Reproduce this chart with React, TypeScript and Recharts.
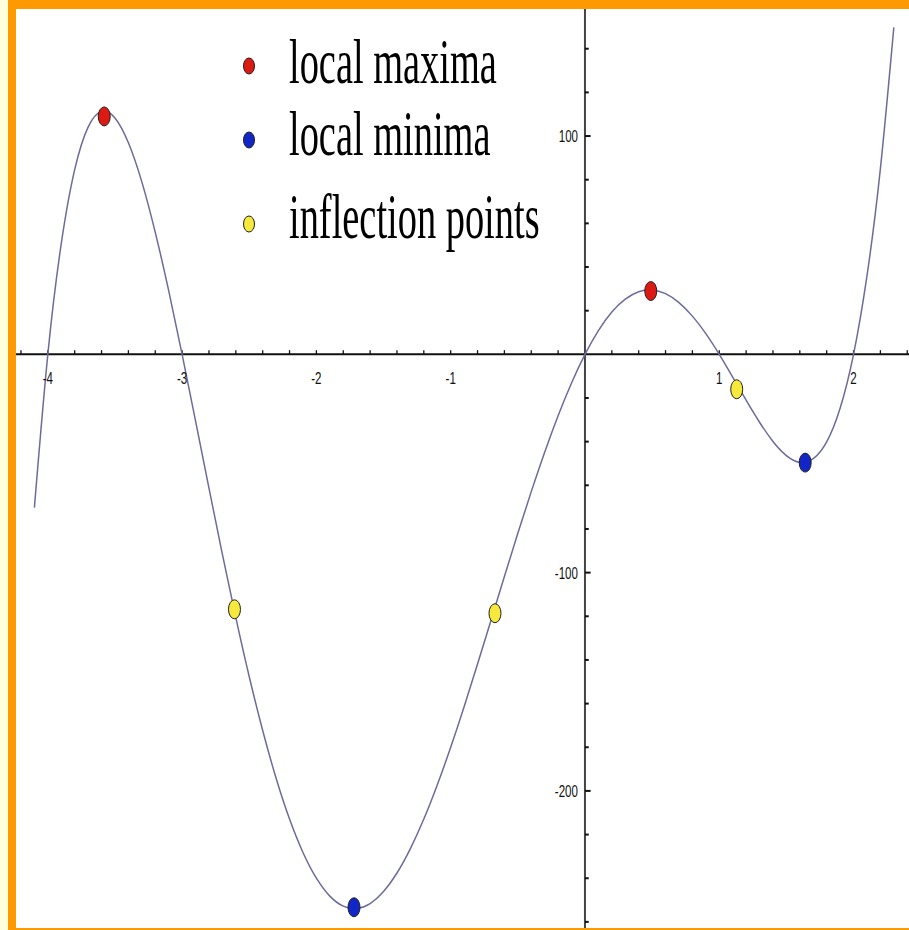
import {
  ComposedChart,
  Line,
  Scatter,
  XAxis,
  YAxis,
  ReferenceLine,
  ReferenceDot,
  Legend,
} from 'recharts';

// sampled curve, x every 0.1 from -4.1 to 2.3
const CURVE_X = [
  -4.1, -4.0, -3.9, -3.8, -3.7, -3.6, -3.5, -3.4, -3.3, -3.2, -3.1, -3.0,
  -2.9, -2.8, -2.7, -2.6, -2.5, -2.4, -2.3, -2.2, -2.1, -2.0,
  -1.9, -1.8, -1.7, -1.6, -1.5, -1.4, -1.3, -1.2, -1.1, -1.0,
  -0.9, -0.8, -0.7, -0.6, -0.5, -0.4, -0.3, -0.2, -0.1, 0,
  0.1, 0.2, 0.3, 0.4, 0.5, 0.6, 0.7, 0.8, 0.9, 1.0,
  1.1, 1.2, 1.3, 1.4, 1.5, 1.6, 1.7, 1.8, 1.9, 2.0,
  2.1, 2.2, 2.3,
];
const CURVE_Y = [
  -70.2, 0, 50.7, 84.6, 104.1, 111.3, 108.3, 96.9, 79.0, 55.9, 29.2, 0,
  -30.5, -61.3, -91.6, -120.6, -147.7, -172.3, -194.2, -212.9, -228.2, -240,
  -248.2, -252.8, -253.9, -251.6, -246.1, -237.6, -226.4, -212.9, -197.3, -180,
  -161.4, -141.9, -121.9, -101.8, -82.0, -62.9, -44.8, -28.1, -13.1, 0,
  10.9, 19.4, 25.3, 28.7, 29.5, 27.8, 23.7, 17.5, 9.5, 0,
  -10.4, -21.0, -31.1, -39.9, -46.4, -49.5, -47.8, -40.1, -24.7, 0,
  35.9, 85.1, 149.8,
];

// highlighted points
const MAXIMA_X = [-3.58, 0.49];
const MAXIMA_Y = [109.0, 29.0];
const MINIMA_X = [-1.72, 1.64];
const MINIMA_Y = [-253.3, -49.6];
const INFLECTION_X = [-2.61, -0.67, 1.13];
const INFLECTION_Y = [-116.8, -118.6, -16.0];

const SERIES_NAMES = ['local maxima', 'local minima', 'inflection points'];
const SERIES_COLORS = ['#dd1a12', '#1226c8', '#f7e83c'];

// axis ticks
const X_MINOR_TICKS = [
  -4.2, -4.0, -3.8, -3.6, -3.4, -3.2, -3.0, -2.8, -2.6, -2.4, -2.2, -2.0,
  -1.8, -1.6, -1.4, -1.2, -1.0, -0.8, -0.6, -0.4, -0.2,
  0.2, 0.4, 0.6, 0.8, 1.0, 1.2, 1.4, 1.6, 1.8, 2.0, 2.2, 2.4,
];
const X_TICK_LABELS = [-4, -3, -2, -1, 1, 2];
const Y_MINOR_TICKS = [
  140, 120, 100, 80, 60, 40, 20, -20, -40, -60, -80, -100, -120, -140,
  -160, -180, -200, -220, -240, -260,
];
const Y_TICK_LABELS = [100, -100, -200];

const X_DOMAIN = [-4.237, 2.413];
const Y_DOMAIN = [-262.8, 158.2];

const curve = CURVE_X.map((x, i) => ({ x, y: CURVE_Y[i] }));
const toPoints = (xs: number[], ys: number[]) => xs.map((x, i) => ({ x, y: ys[i] }));

const SANS = "'Liberation Sans', Arial, sans-serif";
const SERIF = "'Liberation Serif', 'Times New Roman', serif";

const LEGEND_DOT_Y = [66, 140, 224];
const LEGEND_TEXT_Y = [83, 155, 238];

function Marker(props: any) {
  const { cx, cy, fill } = props;
  if (cx == null || cy == null) return null;
  return <ellipse cx={cx} cy={cy} rx={6} ry={9.5} fill={fill} stroke="#222" strokeWidth={1} />;
}

// narrow tick numbers: below the x axis, or left of the y axis
function AxisNumber(props: any) {
  const { viewBox, text, side } = props;
  if (!viewBox) return null;
  const { x, y } = viewBox;
  const tx = side === 'bottom' ? x : x - 7;
  const ty = side === 'bottom' ? y + 30 : y + 6;
  return (
    <text
      transform={`translate(${tx} ${ty}) scale(0.68 1)`}
      textAnchor={side === 'bottom' ? 'middle' : 'end'}
      fontFamily={SANS}
      fontSize={17}
      fill="#111"
    >
      {text}
    </text>
  );
}

function MarkerLegend({ payload }: any) {
  const colorOf = (name: string, i: number) => {
    const hit = (payload || []).find((p: any) => p.value === name);
    return hit?.color || SERIES_COLORS[i];
  };
  return (
    <svg width={600} height={270}>
      {SERIES_NAMES.map((name, i) => (
        <g key={name}>
          <ellipse cx={249} cy={LEGEND_DOT_Y[i]} rx={5.5} ry={8} fill={colorOf(name, i)} stroke="#222" strokeWidth={1} />
          <text
            transform={`translate(289 ${LEGEND_TEXT_Y[i]}) scale(0.6 1)`}
            fontFamily={SERIF}
            fontSize={64}
            fill="#000"
          >
            {name}
          </text>
        </g>
      ))}
    </svg>
  );
}

export default function App() {
  return (
    <div style={{ position: 'absolute', left: 0, top: 0, width: 909, height: 930, background: '#ffffdc' }}>
      <div style={{ position: 'absolute', left: 8, top: 0, width: 901, height: 930, background: '#ff9900' }} />
      <div style={{ position: 'absolute', left: 16, top: 9, width: 893, height: 919, background: '#ffffff' }} />
      <div style={{ position: 'absolute', left: 0, top: 0 }}>
        <ComposedChart width={909} height={930} margin={{ top: 9, right: 0, bottom: 2, left: 16 }}>
          <XAxis dataKey="x" type="number" domain={X_DOMAIN} allowDataOverflow hide />
          <YAxis dataKey="y" type="number" domain={Y_DOMAIN} allowDataOverflow hide />

          <ReferenceLine y={0} stroke="#111" strokeWidth={2} />
          <ReferenceLine x={0} stroke="#444" strokeWidth={2} />

          {X_MINOR_TICKS.map((t) => (
            <ReferenceLine
              key={`xt${t}`}
              segment={[{ x: t, y: 0 }, { x: t, y: 1.9 }]}
              stroke="#111"
              strokeWidth={1.3}
            />
          ))}
          {Y_MINOR_TICKS.map((v) => (
            <ReferenceLine
              key={`yt${v}`}
              segment={[{ x: 0, y: v }, { x: Y_TICK_LABELS.includes(v) ? 0.042 : 0.028, y: v }]}
              stroke="#111"
              strokeWidth={2}
            />
          ))}
          {X_TICK_LABELS.map((t) => (
            <ReferenceDot
              key={`xl${t}`}
              x={t}
              y={0}
              r={0}
              fill="none"
              stroke="none"
              label={<AxisNumber text={String(t)} side="bottom" />}
            />
          ))}
          {Y_TICK_LABELS.map((v) => (
            <ReferenceDot
              key={`yl${v}`}
              x={0}
              y={v}
              r={0}
              fill="none"
              stroke="none"
              label={<AxisNumber text={String(v)} side="left" />}
            />
          ))}

          <Line
            data={curve}
            dataKey="y"
            type="natural"
            stroke="#6c6c9c"
            strokeWidth={1.5}
            dot={false}
            activeDot={false}
            legendType="none"
            isAnimationActive={false}
          />
          <Scatter name={SERIES_NAMES[0]} data={toPoints(MAXIMA_X, MAXIMA_Y)} fill={SERIES_COLORS[0]} shape={Marker} isAnimationActive={false} />
          <Scatter name={SERIES_NAMES[1]} data={toPoints(MINIMA_X, MINIMA_Y)} fill={SERIES_COLORS[1]} shape={Marker} isAnimationActive={false} />
          <Scatter name={SERIES_NAMES[2]} data={toPoints(INFLECTION_X, INFLECTION_Y)} fill={SERIES_COLORS[2]} shape={Marker} isAnimationActive={false} />

          <Legend
            layout="horizontal"
            verticalAlign="middle"
            align="center"
            content={<MarkerLegend />}
            wrapperStyle={{ left: 0, top: 0, width: 600, height: 270 }}
          />
        </ComposedChart>
      </div>
    </div>
  );
}
